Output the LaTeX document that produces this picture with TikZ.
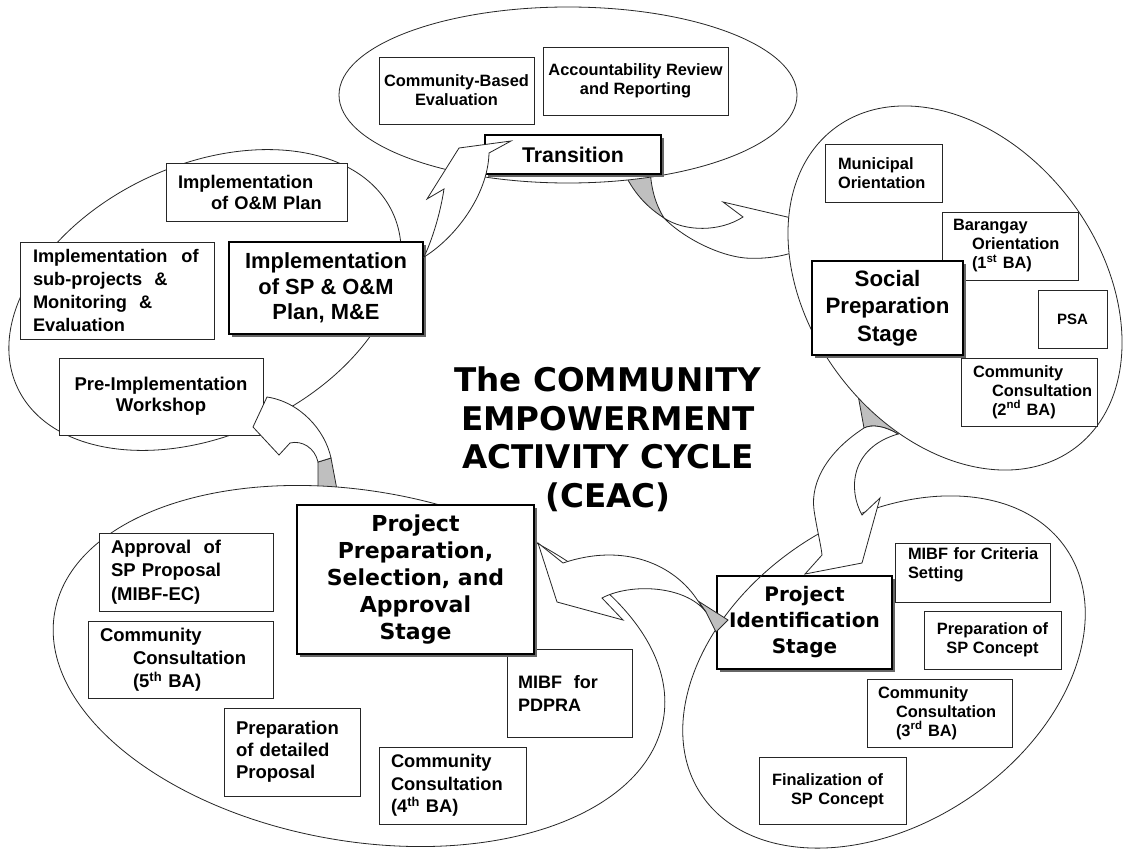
\documentclass[tikz,border=0pt]{standalone}
\usepackage{fontspec}
\setmainfont{Liberation Sans}
\newfontfamily\verd{DejaVu Sans}
\usetikzlibrary{shadows}
\newcommand\myfs[2]{\fontsize{#1}{#2}\selectfont}
\tikzset{
  ell/.style={draw=black!85, line width=0.8pt, fill=white},
  sbox/.style={draw=black!85, line width=0.9pt, fill=white, rectangle, inner sep=0pt,
    font=\bfseries\myfs{16.4}{19}},
  mbox/.style={draw=black, line width=1.2pt, fill=white, rectangle, inner sep=0pt,
    drop shadow={shadow xshift=2.5pt, shadow yshift=-2.5pt, fill=black!60, opacity=1}},
  arrowband/.style={draw=black!85, line width=0.8pt, fill=white, line join=miter},
  twist/.style={draw=black!85, line width=0.8pt, fill=black!25},
}
\begin{document}
\begin{tikzpicture}[x=1pt, y=-1pt]
\fill[white] (0,0) rectangle (1126,848);
\useasboundingbox (0,0) rectangle (1126,848);

% ellipses (stage groups) and the curved arrows between them
\filldraw[ell, rotate around={25:(205,300)}] (205,300) ellipse [x radius=207, y radius=135];
\filldraw[ell, rotate around={34:(884,672)}] (884,672) ellipse [x radius=220, y radius=152];

% arrow Transition -> Social Preparation
\filldraw[twist] (622,168) .. controls (633,193) and (647,207) .. (664,218)
  .. controls (656,205) and (651,190) .. (650,168) -- cycle;
\filldraw[arrowband] (664,218) .. controls (685,232) and (720,232) .. (743,217)
  -- (723,202) -- (800,220) -- (800,250)
  .. controls (780,258) and (760,259) .. (745,258)
  .. controls (715,255) and (680,235) .. (664,218) -- cycle;

% arrow Social Preparation -> Project Identification
\filldraw[twist] (858,395) -- (905,410) -- (898,434)
  .. controls (885,426) and (872,424) .. (864,428) -- cycle;
\filldraw[arrowband] (864,428) .. controls (830,450) and (810,480) .. (814,510)
  .. controls (817,530) and (821,545) .. (822,555) -- (805,574) -- (862,563)
  -- (880,498) -- (862,515) .. controls (848,490) and (850,448) .. (898,434)
  .. controls (885,426) and (872,424) .. (864,428) -- cycle;

\filldraw[ell] (568,95) ellipse [x radius=229, y radius=88];
\filldraw[ell, rotate around={-53:(955,288)}] (955,288) ellipse [x radius=200, y radius=145];

\node[sbox, minimum width=204pt, minimum height=77pt, align=center,
  font=\bfseries\myfs{18.5}{21}] (pre) at (161,396.5) {Pre-Implementation\\Workshop};

% arrow Project Preparation -> Pre-Implementation
\filldraw[twist] (318,462) -- (331,458) -- (338,495) -- (318,495) -- cycle;
\filldraw[arrowband] (331,458) .. controls (325,430) and (300,402) .. (267,397)
  -- (253,427) -- (279,455) -- (290,443)
  .. controls (302,440) and (315,448) .. (318,462) -- cycle;

\filldraw[ell, rotate around={-10:(359,666)}] (359,666) ellipse [x radius=309, y radius=175];

% top group
\node[sbox, minimum width=155pt, minimum height=67pt, align=center] (cbe) at (456.5,90.5) {Community-Based\\Evaluation};
\node[sbox, minimum width=185pt, minimum height=68pt, align=center] (arr) at (635.5,81) {Accountability Review\\and Reporting};
\node[mbox, minimum width=176pt, minimum height=39pt, font=\bfseries\myfs{21.3}{25}] (trans) at (573,154.5) {Transition};

% implementation group
\node[sbox, minimum width=181pt, minimum height=58pt, text width=157pt, align=left,
  font=\bfseries\myfs{18.3}{21}] (iom) at (256.5,192) {\mbox{Implementation}\\\hspace*{33pt}\mbox{of O\&M Plan}};
\node[sbox, minimum width=194pt, minimum height=97pt, text width=168pt, align=left,
  font=\bfseries\myfs{18.2}{23.3}] (isp) at (117,290.5) {\mbox{Implementation\hspace{14pt}of}\\\mbox{sub-projects~~\&}\\\mbox{Monitoring~~\&}\\\mbox{Evaluation}};
\node[mbox, minimum width=194pt, minimum height=92pt, align=center,
  font=\bfseries\myfs{21.9}{25.5}] (impl) at (326,288) {Implementation\\of SP \& O\&M\\Plan, M\&E};

% social preparation group
\node[sbox, minimum width=117pt, minimum height=58pt, text width=91pt, align=left] (mun) at (883.5,173) {\mbox{Municipal}\\\mbox{Orientation}};
\node[sbox, minimum width=136pt, minimum height=68pt, text width=114pt, align=left] (bar) at (1010,246) {\mbox{Barangay}\\\hspace*{19pt}\mbox{Orientation}\\\hspace*{19pt}\mbox{(1\textsuperscript{st} BA)}};
\node[mbox, minimum width=151pt, minimum height=94pt, align=center,
  font=\bfseries\myfs{22.3}{27.5}] (soc) at (887.5,308) {Social\\Preparation\\Stage};
\node[sbox, minimum width=69pt, minimum height=58pt, font=\bfseries\myfs{15}{18}] (psa) at (1072.5,319) {PSA};
\node[sbox, minimum width=136pt, minimum height=68pt, text width=112pt, align=left] (cc2) at (1029,392) {\mbox{Community}\\\hspace*{19pt}\mbox{Consultation}\\\hspace*{19pt}\mbox{(2\textsuperscript{nd} BA)}};

% project identification group
\node[sbox, minimum width=155pt, minimum height=59pt, text width=129pt, align=left] (mibfc) at (972.5,572.5) {\mbox{MIBF for Criteria}\\\mbox{Setting}\\\mbox{}};
\node[mbox, minimum width=175pt, minimum height=93pt, align=center,
  font=\verd\bfseries\myfs{20}{26}] (pid) at (804.5,622.5) {Project\\Identification\\Stage};
\node[sbox, minimum width=137pt, minimum height=58pt, align=center] (prepsp) at (992.5,640) {Preparation of\\SP Concept};
\node[sbox, minimum width=145pt, minimum height=68pt, text width=123pt, align=left] (cc3) at (939.5,713) {\mbox{Community}\\\hspace*{18pt}\mbox{Consultation}\\\hspace*{18pt}\mbox{(3\textsuperscript{rd} BA)}};
\node[sbox, minimum width=147pt, minimum height=67pt, text width=121pt, align=left] (fin) at (832.5,790.5) {\mbox{Finalization of}\\\hspace*{19pt}\mbox{SP Concept}};

% project preparation group
\node[sbox, minimum width=174pt, minimum height=78pt, text width=150pt, align=left,
  font=\bfseries\myfs{18.5}{23.5}] (appr) at (186,572) {\mbox{Approval~~of}\\\mbox{SP Proposal}\\\mbox{(MIBF-EC)}};
\node[sbox, minimum width=185pt, minimum height=77pt, text width=161pt, align=left,
  font=\bfseries\myfs{18.5}{23}] (cc5) at (180.5,659.5) {\mbox{Community}\\\hspace*{33pt}\mbox{Consultation}\\\hspace*{33pt}\mbox{(5\textsuperscript{th} BA)}};
\node[sbox, minimum width=136pt, minimum height=88pt, text width=112pt, align=left,
  font=\bfseries\myfs{18.5}{22}] (prepdet) at (292,752) {\mbox{Preparation}\\\mbox{of detailed}\\\mbox{Proposal}};
\node[sbox, minimum width=147pt, minimum height=77pt, text width=123pt, align=left,
  font=\bfseries\myfs{18.3}{22.5}] (cc4) at (452.5,785.5) {\mbox{Community}\\\mbox{Consultation}\\\mbox{(4\textsuperscript{th} BA)}};
\node[sbox, minimum width=125pt, minimum height=88pt, text width=103pt, align=left,
  font=\bfseries\myfs{18}{23}] (pdpra) at (569.5,693) {\mbox{MIBF~~for}\\\mbox{PDPRA}};
\node[mbox, minimum width=237pt, minimum height=149pt, align=center,
  font=\verd\bfseries\myfs{22}{27}] (prep) at (415.5,579.5) {Project\\Preparation,\\Selection, and\\Approval\\Stage};

% ellipse outline seen through the Project Identification box
\begin{scope}
  \clip (pid.south west) rectangle (pid.north east);
  \draw[draw=black!85, line width=0.8pt, rotate around={34:(884,672)}] (884,672) ellipse [x radius=220, y radius=152];
\end{scope}

% arrow Project Identification -> Project Preparation
\filldraw[twist] (698,601) -- (728,620) -- (716,632) -- (706,612) -- cycle;
\filldraw[arrowband] (698,601) .. controls (675,565) and (625,542) .. (563,563)
  -- (538,543) -- (557,602) -- (623,620) -- (602,598)
  .. controls (630,583) and (685,585) .. (706,612) -- cycle;

% arrow Implementation -> Transition
\filldraw[arrowband] (424,257) .. controls (455,238) and (488,195) .. (489,153)
  -- (511,141) -- (459,148) -- (427,199) -- (444,189)
  .. controls (440,215) and (432,240) .. (424,257) -- cycle;

% title
\node[font=\verd\bfseries\myfs{32.6}{38.5}, align=center, inner sep=0pt] (title) at (608,439.5)
  {The COMMUNITY\\EMPOWERMENT\\ACTIVITY CYCLE\\(CEAC)};
\end{tikzpicture}
\end{document}
